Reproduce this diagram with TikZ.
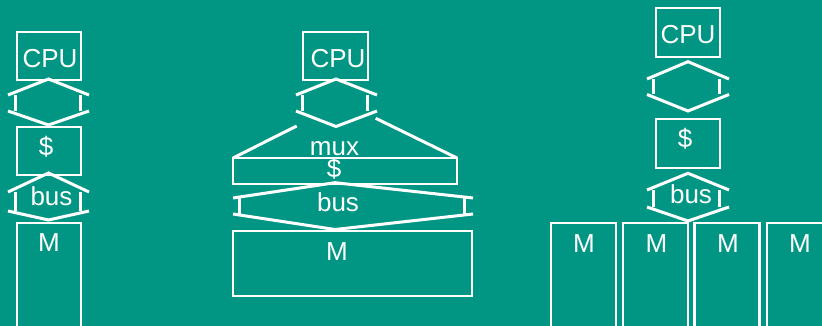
\documentclass[tikz,border=0pt]{standalone}
\usepackage{fontspec}
\setmainfont{Liberation Sans}
\definecolor{slidebg}{RGB}{0,150,131}
% two-headed block arrow outline: wings, shaft sides and lower wings
\newcommand\hexlink[9]{%
  \draw[link] (#1,#7) -- (#3,#6) -- (#5,#7);
  \draw[link] (#2,#7) -- (#2,#8) (#4,#7) -- (#4,#8);
  \draw[link] (#1,#8) -- (#3,#9) -- (#5,#8);}
\begin{document}
\begin{tikzpicture}[x=1pt,y=-1pt,
  box/.style={draw=white, line width=2.7pt, inner sep=0pt, outer sep=0pt, rectangle},
  link/.style={draw=white, line width=3pt},
  lbl/.style={text=white, anchor=base, inner sep=0pt, font=\fontsize{26}{31}\selectfont}]
\useasboundingbox (0,0) rectangle (822,326);
\fill[slidebg] (0,0) rectangle (822,326);
\clip (0,0) rectangle (822,326);

% --- single CPU, cache, bus, memory
\node[box, minimum width=64, minimum height=48] (cpuA) at (49,56) {};
\node[box, minimum width=64, minimum height=48] (cacheA) at (49,151) {};
\node[box, minimum width=64, minimum height=117] (memA) at (49,281.5) {};
\node[lbl] (cpuAt) at (50,68) {CPU};
\node[lbl] (cacheAt) at (46,156) {\$};
\node[lbl] (busAt) at (51.5,205) {bus};
\node[lbl] (memAt) at (49,251.5) {M};
\hexlink{8}{15}{48.5}{80}{89}{79}{95}{111}{125}
\hexlink{8}{15}{48.5}{80}{89}{173}{192}{211}{220}

% --- wide cache with mux, wide bus, wide memory
\node[box, minimum width=65, minimum height=48] (cpuB) at (335.5,56) {};
\node[box, minimum width=224, minimum height=26] (cacheB) at (345,171) {};
\node[box, minimum width=239, minimum height=65] (memB) at (352.5,263.5) {};
\node[lbl] (cpuBt) at (338,68) {CPU};
\node[lbl] (muxBt) at (334.5,156) {mux};
\node[lbl] (cacheBt) at (334,178) {\$};
\node[lbl] (busBt) at (338,211.5) {bus};
\node[lbl] (memBt) at (337,260) {M};
\hexlink{296}{302}{336}{367}{377}{79}{95}{111}{126.5}
\coordinate (muxL) at (296.7,126);
\coordinate (muxR) at (375.7,118.3);
\draw[link] (muxL) -- (cacheB.north west);
\draw[link] (muxR) -- (cacheB.north east);
\hexlink{233}{239.5}{335}{464.5}{473}{182.7}{198}{214}{229.5}

% --- interleaved memory banks
\node[box, minimum width=64, minimum height=49] (cpuC) at (688,32.5) {};
\node[box, minimum width=64, minimum height=49] (cacheC) at (688,143.5) {};
\node[box, minimum width=65, minimum height=117] (memC1) at (583.5,281.5) {};
\node[box, minimum width=65, minimum height=117] (memC2) at (655.5,281.5) {};
\node[box, minimum width=65, minimum height=117] (memC3) at (726.75,281.5) {};
\node[box, minimum width=65, minimum height=117] (memC4) at (799.5,281.5) {};
\node[lbl] (cpuCt) at (688,44) {CPU};
\node[lbl] (cacheCt) at (685,148) {\$};
\node[lbl] (busCt) at (691,204) {bus};
\node[lbl] (memC1t) at (584,252) {M};
\node[lbl] (memC2t) at (656.5,252) {M};
\node[lbl] (memC3t) at (728,252) {M};
\node[lbl] (memC4t) at (800,252) {M};
\hexlink{647}{653.5}{688}{719.5}{729}{61.7}{79}{94.5}{111}
\hexlink{647}{653.5}{688}{719.5}{729}{173.3}{190}{207}{221}
\end{tikzpicture}
\end{document}
